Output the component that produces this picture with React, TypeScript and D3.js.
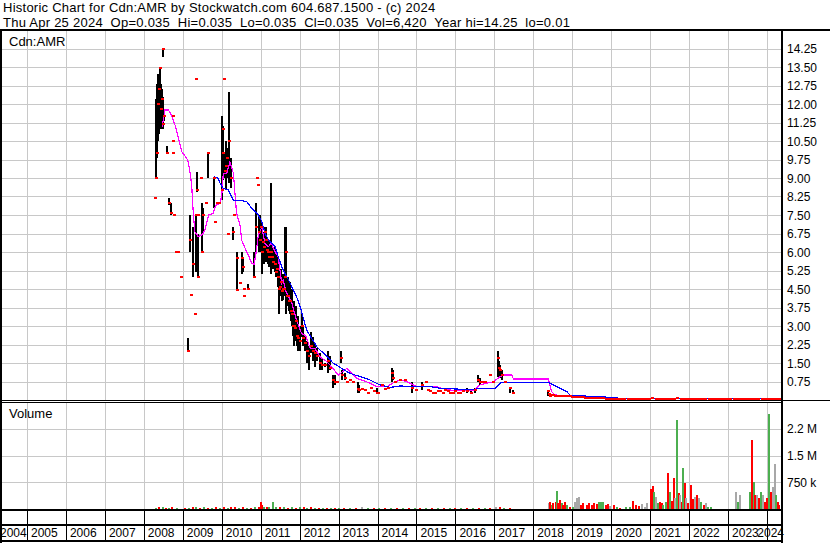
import React from 'react';
import * as d3 from 'd3';

const headerLine1 = 'Historic Chart for Cdn:AMR by Stockwatch.com 604.687.1500 - (c) 2024';
const headerLine2 = 'Thu Apr 25 2024  Op=0.035  Hi=0.035  Lo=0.035  Cl=0.035  Vol=6,420  Year hi=14.25  lo=0.01';
const symbolLabel = 'Cdn:AMR';
const volumeLabel = 'Volume';

const yearLabels = [2004, 2005, 2006, 2007, 2008, 2009, 2010, 2011, 2012, 2013, 2014, 2015, 2016, 2017, 2018, 2019, 2020, 2021, 2022, 2023, 2024];
const priceTicks = [0.75, 1.5, 2.25, 3, 3.75, 4.5, 5.25, 6, 6.75, 7.5, 8.25, 9, 9.75, 10.5, 11.25, 12, 12.75, 13.5, 14.25];
const volumeTicks = [750000, 1500000, 2250000];
const volumeTickLabels = ['750 k', '1.5 M', '2.2 M'];

// [date, low, high, close]
const priceBars: [number, number, number, number][] = [
  [2008.29, 8.2, 8.2, 8.2], [2008.30, 9.0, 9.0, 9.0], [2008.31, 9.0, 12.2, 9.0], [2008.34, 9.8, 12.8, 10.0],
  [2008.36, 10.5, 13.2, 12.0], [2008.39, 10.8, 13.0, 12.6], [2008.41, 11.5, 13.5, 13.47], [2008.44, 11.0, 12.8, 11.8],
  [2008.47, 11.2, 12.6, 12.2], [2008.49, 13.9, 14.25, 14.25], [2008.50, 11.0, 12.3, 11.2], [2008.52, 11.3, 11.8, 11.5],
  [2008.59, 10.0, 10.3, 10.0], [2008.65, 7.9, 8.2, 8.0], [2008.70, 7.5, 8.0, 7.6], [2008.74, 11.5, 11.5, 11.5],
  [2008.75, 10.5, 10.5, 10.5], [2008.76, 10.0, 10.0, 10.0], [2008.77, 7.5, 7.5, 7.5], [2008.83, 6.0, 6.0, 6.0],
  [2008.86, 6.0, 6.0, 6.0], [2008.88, 6.0, 6.0, 6.0], [2008.95, 5.0, 5.0, 5.0],
  [2009.13, 2.0, 2.5, 2.0], [2009.19, 6.0, 7.5, 6.5], [2009.20, 4.25, 4.25, 4.25], [2009.26, 5.0, 7.0, 5.5],
  [2009.31, 3.5, 3.5, 3.5], [2009.33, 5.2, 7.5, 7.5], [2009.34, 13.0, 13.0, 13.0], [2009.36, 8.45, 9.25, 8.5],
  [2009.38, 5.0, 6.75, 5.0], [2009.40, 7.5, 7.5, 7.5], [2009.46, 9.0, 9.0, 9.0], [2009.49, 6.0, 8.0, 6.0],
  [2009.52, 6.8, 7.8, 7.5], [2009.60, 8.0, 8.0, 8.0], [2009.64, 9.0, 10.0, 10.0], [2009.80, 7.8, 9.0, 9.0],
  [2009.83, 7.2, 7.2, 7.2], [2009.88, 8.0, 8.0, 8.0], [2009.93, 8.0, 8.0, 8.0],
  [2010.00, 8.1, 11.5, 8.5], [2010.03, 8.9, 11.1, 11.0], [2010.04, 9.2, 10.8, 10.0], [2010.06, 13.0, 13.0, 13.0],
  [2010.08, 9.0, 10.0, 9.3], [2010.10, 8.5, 10.5, 9.5], [2010.14, 9.0, 10.2, 9.8], [2010.16, 6.75, 6.75, 6.75],
  [2010.19, 8.8, 12.5, 10.5], [2010.23, 8.6, 9.8, 9.0], [2010.28, 6.5, 7.0, 6.8], [2010.31, 7.5, 7.5, 7.5],
  [2010.38, 4.5, 6.0, 5.75], [2010.40, 4.45, 5.4, 4.45], [2010.47, 4.75, 4.75, 4.75], [2010.52, 5.1, 6.0, 5.75],
  [2010.55, 5.2, 5.8, 5.4], [2010.57, 4.5, 4.5, 4.5], [2010.58, 4.2, 4.2, 4.2], [2010.68, 4.5, 4.7, 4.5],
  [2010.82, 5.0, 6.0, 5.0], [2010.87, 6.0, 8.0, 7.0], [2010.91, 9.0, 9.0, 9.0], [2010.94, 8.7, 8.7, 8.7],
  [2010.95, 6.0, 7.5, 6.8], [2010.97, 6.0, 7.5, 6.5],
  [2011.01, 6.2, 7.3, 7.0], [2011.03, 5.1, 7.0, 6.0], [2011.06, 5.6, 6.8, 6.4], [2011.09, 5.5, 6.5, 6.2],
  [2011.11, 5.6, 7.0, 6.8], [2011.14, 5.8, 7.0, 6.5], [2011.16, 5.6, 6.6, 6.1], [2011.19, 5.5, 6.5, 6.0],
  [2011.22, 5.4, 6.4, 5.8], [2011.27, 5.1, 8.8, 6.0], [2011.30, 5.5, 6.3, 5.8], [2011.32, 5.3, 6.2, 5.6],
  [2011.37, 5.2, 6.2, 5.5], [2011.40, 5.0, 5.8, 5.2], [2011.42, 5.0, 6.0, 5.3], [2011.45, 4.6, 5.6, 5.0],
  [2011.47, 3.5, 5.7, 4.5], [2011.50, 4.2, 5.2, 4.6], [2011.52, 4.2, 5.3, 4.8], [2011.55, 4.0, 5.0, 4.4],
  [2011.57, 4.05, 5.1, 4.5], [2011.60, 4.2, 5.0, 4.5], [2011.62, 4.5, 7.0, 5.0], [2011.65, 3.5, 7.0, 6.0],
  [2011.67, 3.8, 5.0, 4.2], [2011.70, 3.8, 5.0, 4.2], [2011.73, 3.6, 4.6, 4.0], [2011.75, 3.5, 4.8, 4.0],
  [2011.78, 3.2, 4.2, 3.6], [2011.80, 3.0, 4.5, 3.5], [2011.83, 2.6, 3.8, 3.0], [2011.86, 2.2, 4.0, 3.0],
  [2011.88, 2.4, 3.6, 2.9], [2011.91, 2.5, 3.8, 3.2], [2011.94, 2.2, 3.4, 2.6], [2011.96, 2.0, 3.4, 2.5],
  [2012.01, 2.0, 3.0, 2.4], [2012.05, 2.55, 3.5, 3.0], [2012.09, 2.2, 3.0, 2.5], [2012.14, 2.0, 2.6, 2.3],
  [2012.19, 1.5, 2.4, 2.0], [2012.24, 1.2, 2.2, 1.8], [2012.29, 1.9, 2.75, 2.2], [2012.34, 1.6, 2.55, 2.0],
  [2012.39, 1.35, 2.3, 1.9], [2012.45, 1.6, 2.1, 1.8], [2012.52, 1.2, 1.9, 1.5], [2012.57, 1.2, 1.7, 1.4],
  [2012.65, 1.35, 1.5, 1.4], [2012.73, 1.1, 2.0, 1.6], [2012.78, 1.2, 1.8, 1.3], [2012.86, 0.5, 1.0, 0.8],
  [2012.91, 0.6, 1.0, 0.75], [2012.96, 0.74, 0.74, 0.74],
  [2013.05, 1.5, 2.0, 1.7], [2013.09, 0.8, 1.2, 1.0], [2013.16, 0.8, 1.1, 0.9], [2013.22, 0.75, 0.75, 0.75],
  [2013.29, 0.8, 0.8, 0.8], [2013.37, 0.75, 0.75, 0.75], [2013.49, 0.28, 0.74, 0.45], [2013.52, 0.3, 0.6, 0.4],
  [2013.60, 0.45, 0.45, 0.45], [2013.68, 0.4, 0.4, 0.4], [2013.76, 0.3, 0.3, 0.3], [2013.83, 0.5, 0.5, 0.5],
  [2013.91, 0.35, 0.35, 0.35], [2013.98, 0.28, 0.5, 0.3],
  [2014.01, 0.28, 0.28, 0.28], [2014.12, 0.6, 0.6, 0.6], [2014.19, 0.45, 0.45, 0.45], [2014.27, 0.5, 0.5, 0.5],
  [2014.36, 0.74, 1.3, 1.1], [2014.40, 0.8, 1.2, 0.9], [2014.45, 0.74, 0.74, 0.74], [2014.58, 0.8, 0.8, 0.8],
  [2014.71, 0.8, 0.8, 0.8], [2014.89, 0.3, 0.74, 0.5], [2014.99, 0.4, 0.4, 0.4],
  [2015.13, 0.4, 0.74, 0.6], [2015.24, 0.74, 0.74, 0.74], [2015.30, 0.4, 0.4, 0.4], [2015.35, 0.35, 0.35, 0.35],
  [2015.42, 0.3, 0.3, 0.3], [2015.48, 0.3, 0.3, 0.3], [2015.55, 0.35, 0.35, 0.35], [2015.60, 0.35, 0.35, 0.35],
  [2015.67, 0.3, 0.3, 0.3], [2015.73, 0.4, 0.4, 0.4], [2015.80, 0.35, 0.35, 0.35], [2015.86, 0.3, 0.3, 0.3],
  [2015.93, 0.3, 0.3, 0.3], [2015.99, 0.35, 0.35, 0.35],
  [2016.06, 0.3, 0.3, 0.3], [2016.12, 0.3, 0.3, 0.3], [2016.20, 0.35, 0.35, 0.35], [2016.30, 0.28, 0.5, 0.35],
  [2016.40, 0.28, 0.45, 0.3], [2016.50, 0.3, 0.5, 0.4], [2016.58, 0.74, 1.0, 0.8], [2016.63, 0.6, 0.9, 0.74],
  [2016.70, 0.74, 0.74, 0.74], [2016.76, 0.74, 0.74, 0.74], [2016.89, 1.0, 1.0, 1.0], [2016.97, 0.74, 0.74, 0.74],
  [2017.10, 0.95, 2.0, 1.7], [2017.12, 1.0, 1.6, 1.3], [2017.15, 0.9, 1.4, 1.2], [2017.20, 0.8, 1.2, 1.0],
  [2017.27, 0.74, 0.74, 0.74], [2017.40, 0.28, 0.5, 0.5], [2017.48, 0.28, 0.4, 0.28],
  [2018.38, 0.15, 0.4, 0.35], [2018.40, 0.2, 0.3, 0.25], [2018.43, 0.12, 0.25, 0.15], [2018.47, 0.2, 0.2, 0.2],
  [2018.51, 0.2, 0.2, 0.2], [2018.56, 0.18, 0.18, 0.18], [2018.60, 0.18, 0.18, 0.18], [2018.65, 0.16, 0.16, 0.16],
  [2018.69, 0.15, 0.15, 0.15], [2018.75, 0.17, 0.17, 0.17], [2018.81, 0.18, 0.18, 0.18], [2018.87, 0.16, 0.16, 0.16],
  [2018.94, 0.15, 0.15, 0.15], [2019.00, 0.14, 0.14, 0.14], [2019.07, 0.12, 0.12, 0.12], [2019.13, 0.12, 0.12, 0.12],
  [2019.20, 0.12, 0.12, 0.12], [2019.27, 0.11, 0.11, 0.11], [2019.33, 0.1, 0.1, 0.1], [2019.40, 0.1, 0.1, 0.1],
  [2019.46, 0.1, 0.1, 0.1], [2019.52, 0.09, 0.09, 0.09], [2019.58, 0.08, 0.08, 0.08], [2019.65, 0.08, 0.08, 0.08],
  [2019.71, 0.07, 0.07, 0.07], [2019.78, 0.07, 0.07, 0.07], [2019.86, 0.06, 0.06, 0.06], [2019.94, 0.06, 0.06, 0.06],
  [2020.02, 0.06, 0.06, 0.06], [2020.10, 0.06, 0.06, 0.06], [2020.18, 0.05, 0.05, 0.05], [2020.26, 0.05, 0.05, 0.05],
  [2020.34, 0.05, 0.05, 0.05], [2020.42, 0.05, 0.05, 0.05], [2020.50, 0.05, 0.05, 0.05], [2020.58, 0.06, 0.06, 0.06],
  [2020.66, 0.05, 0.05, 0.05], [2020.74, 0.05, 0.05, 0.05], [2020.82, 0.05, 0.05, 0.05], [2020.90, 0.05, 0.05, 0.05],
  [2020.98, 0.06, 0.06, 0.06], [2021.06, 0.08, 0.08, 0.08], [2021.14, 0.06, 0.06, 0.06], [2021.22, 0.05, 0.05, 0.05],
  [2021.30, 0.05, 0.05, 0.05], [2021.38, 0.06, 0.06, 0.06], [2021.46, 0.06, 0.06, 0.06], [2021.54, 0.06, 0.06, 0.06],
  [2021.62, 0.05, 0.05, 0.05], [2021.70, 0.07, 0.07, 0.07], [2021.78, 0.05, 0.05, 0.05], [2021.86, 0.05, 0.05, 0.05],
  [2021.94, 0.05, 0.05, 0.05], [2022.02, 0.05, 0.05, 0.05], [2022.10, 0.05, 0.05, 0.05], [2022.18, 0.04, 0.04, 0.04],
  [2022.26, 0.04, 0.04, 0.04], [2022.34, 0.04, 0.04, 0.04], [2022.42, 0.04, 0.04, 0.04], [2022.50, 0.04, 0.04, 0.04],
  [2022.58, 0.04, 0.04, 0.04], [2022.66, 0.04, 0.04, 0.04], [2022.74, 0.04, 0.04, 0.04], [2022.82, 0.04, 0.04, 0.04],
  [2022.90, 0.04, 0.04, 0.04], [2022.98, 0.04, 0.04, 0.04], [2023.06, 0.04, 0.04, 0.04], [2023.14, 0.04, 0.04, 0.04],
  [2023.22, 0.05, 0.05, 0.05], [2023.30, 0.04, 0.04, 0.04], [2023.38, 0.04, 0.04, 0.04], [2023.46, 0.04, 0.04, 0.04],
  [2023.54, 0.05, 0.05, 0.05], [2023.62, 0.04, 0.04, 0.04], [2023.70, 0.04, 0.04, 0.04], [2023.78, 0.04, 0.04, 0.04],
  [2023.86, 0.04, 0.04, 0.04], [2023.94, 0.035, 0.035, 0.035], [2024.02, 0.04, 0.04, 0.04], [2024.10, 0.035, 0.035, 0.035],
  [2024.18, 0.035, 0.035, 0.035], [2024.26, 0.035, 0.035, 0.035], [2024.31, 0.035, 0.035, 0.035],
];

// [date, value] short moving average (magenta)
const fastMA: [number, number][] = [
  [2008.47, 11.08], [2008.54, 11.76], [2008.63, 11.76], [2008.72, 11.51], [2008.80, 11.15], [2008.88, 10.68],
  [2008.97, 10.07], [2009.10, 9.8], [2009.14, 9.66], [2009.19, 9.19], [2009.23, 8.65], [2009.27, 7.57],
  [2009.31, 6.82], [2009.40, 6.62], [2009.49, 6.69], [2009.57, 6.89], [2009.66, 7.5], [2009.78, 7.57],
  [2009.85, 7.9], [2009.96, 7.97], [2010.00, 8.31], [2010.04, 9.19], [2010.13, 9.19], [2010.21, 9.66],
  [2010.30, 9.19], [2010.34, 8.38], [2010.38, 7.57], [2010.47, 7.09], [2010.51, 6.49], [2010.60, 6.15],
  [2010.68, 5.88], [2010.77, 5.54], [2010.83, 5.5], [2010.88, 5.95], [2010.94, 6.69], [2011.03, 7.0],
  [2011.11, 6.35], [2011.19, 6.2], [2011.27, 6.35], [2011.37, 6.01], [2011.45, 5.8], [2011.54, 4.73],
  [2011.58, 4.86], [2011.65, 4.4], [2011.80, 3.92], [2011.92, 3.24], [2012.05, 2.7], [2012.16, 2.6],
  [2012.27, 2.1], [2012.39, 2.1], [2012.52, 1.76], [2012.70, 1.55], [2012.86, 1.28], [2012.99, 1.01],
  [2013.21, 1.28], [2013.34, 1.08], [2013.47, 0.88], [2013.72, 0.74], [2013.98, 0.54], [2014.24, 0.54],
  [2014.45, 0.74], [2014.62, 0.81], [2014.76, 0.74], [2015.01, 0.54], [2015.52, 0.54], [2015.78, 0.41],
  [2016.12, 0.38], [2016.46, 0.38], [2016.63, 0.61], [2016.97, 0.74], [2017.15, 0.95], [2017.23, 1.01],
  [2017.45, 1.01], [2017.49, 0.85], [2018.39, 0.85], [2018.47, 0.34], [2018.56, 0.2], [2019.20, 0.18],
  [2019.63, 0.07], [2020.74, 0.06], [2022.28, 0.05], [2024.31, 0.05],
];

// [date, value] long moving average (blue)
const slowMA: [number, number][] = [
  [2009.80, 9.05], [2009.91, 8.99], [2009.96, 8.78], [2010.04, 8.58], [2010.17, 8.51], [2010.30, 8.1],
  [2010.47, 8.1], [2010.64, 8.04], [2010.81, 7.7], [2010.94, 7.5], [2011.03, 7.23], [2011.11, 6.76],
  [2011.20, 6.49], [2011.28, 6.35], [2011.37, 6.21], [2011.45, 5.81], [2011.54, 5.4], [2011.67, 5.0],
  [2011.75, 4.75], [2011.92, 4.19], [2012.01, 3.8], [2012.18, 2.84], [2012.44, 2.16], [2012.70, 1.76],
  [2012.86, 1.5], [2013.08, 1.28], [2013.29, 1.08], [2013.55, 0.95], [2013.81, 0.81], [2014.06, 0.61],
  [2014.32, 0.51], [2014.58, 0.57], [2014.91, 0.54], [2015.35, 0.54], [2015.60, 0.48], [2016.45, 0.41],
  [2016.58, 0.47], [2017.02, 0.47], [2017.17, 0.72], [2018.38, 0.72], [2018.60, 0.54], [2018.86, 0.34],
  [2018.94, 0.2], [2019.07, 0.18], [2019.97, 0.11], [2020.23, 0.07], [2024.33, 0.06],
];

// [date, volume, colour key]
const volumeBars: [number, number, string][] = [
  [2008.32, 40000, 'g'], [2008.40, 60000, 'r'], [2008.48, 50000, 'g'], [2008.56, 40000, 'r'], [2008.64, 35000, 'g'],
  [2008.72, 45000, 'r'], [2008.85, 30000, 'g'], [2009.05, 40000, 'r'], [2009.15, 35000, 'g'], [2009.25, 50000, 'r'],
  [2009.35, 45000, 'g'], [2009.45, 40000, 'r'], [2009.55, 50000, 'g'], [2009.65, 40000, 'r'], [2009.75, 35000, 'g'],
  [2009.85, 45000, 'r'], [2009.95, 40000, 'g'], [2010.05, 50000, 'r'], [2010.15, 40000, 'g'], [2010.25, 45000, 'r'],
  [2010.35, 50000, 'r'], [2010.45, 40000, 'g'], [2010.55, 45000, 'r'], [2010.65, 35000, 'g'], [2010.75, 40000, 'r'],
  [2010.85, 50000, 'g'], [2010.95, 60000, 'r'], [2011.00, 190000, 'r'], [2011.04, 100000, 'r'], [2011.08, 60000, 'g'],
  [2011.15, 50000, 'r'], [2011.22, 45000, 'g'], [2011.32, 210000, 'g'], [2011.40, 60000, 'g'], [2011.50, 50000, 'r'],
  [2011.60, 45000, 'g'], [2011.70, 40000, 'r'], [2011.80, 50000, 'g'], [2011.90, 40000, 'r'], [2012.00, 45000, 'g'],
  [2012.10, 60000, 'r'], [2012.20, 40000, 'g'], [2012.30, 45000, 'r'], [2012.40, 35000, 'g'], [2012.50, 40000, 'r'],
  [2012.60, 35000, 'g'], [2012.70, 40000, 'r'], [2012.80, 30000, 'g'], [2012.90, 35000, 'r'], [2013.00, 30000, 'g'],
  [2013.15, 35000, 'r'], [2013.30, 30000, 'g'], [2013.45, 35000, 'r'], [2013.60, 50000, 'k'], [2013.75, 30000, 'g'],
  [2013.90, 35000, 'r'], [2014.05, 30000, 'g'], [2014.20, 35000, 'r'], [2014.35, 40000, 'g'], [2014.50, 30000, 'r'],
  [2014.65, 30000, 'g'], [2014.80, 35000, 'r'], [2014.95, 30000, 'g'], [2015.10, 30000, 'r'], [2015.25, 35000, 'g'],
  [2015.40, 30000, 'r'], [2015.55, 30000, 'g'], [2015.70, 35000, 'r'], [2015.85, 30000, 'g'], [2016.00, 30000, 'r'],
  [2016.15, 35000, 'g'], [2016.30, 30000, 'r'], [2016.45, 35000, 'g'], [2016.60, 30000, 'r'], [2016.75, 35000, 'g'],
  [2016.90, 40000, 'r'], [2017.05, 60000, 'k'], [2017.15, 45000, 'r'], [2017.25, 40000, 'g'], [2017.40, 35000, 'r'],
  [2018.39, 159000, 'k'], [2018.43, 206000, 'r'], [2018.47, 112000, 'g'], [2018.51, 159000, 'r'], [2018.57, 206000, 'r'],
  [2018.60, 505000, 'g'], [2018.64, 159000, 'r'], [2018.69, 252000, 'r'], [2018.73, 159000, 'g'], [2018.77, 112000, 'r'],
  [2018.81, 206000, 'r'], [2018.86, 112000, 'g'], [2018.94, 65000, 'r'], [2019.03, 65000, 'g'],
  [2019.07, 206000, 'k'], [2019.11, 318000, 'k'], [2019.17, 346000, 'k'], [2019.22, 112000, 'r'], [2019.28, 159000, 'r'],
  [2019.37, 112000, 'r'], [2019.43, 159000, 'r'], [2019.50, 112000, 'r'], [2019.56, 159000, 'r'], [2019.63, 131000, 'r'],
  [2019.69, 206000, 'g'], [2019.74, 187000, 'g'], [2019.80, 206000, 'g'], [2019.87, 112000, 'r'], [2019.93, 131000, 'r'],
  [2019.97, 93000, 'k'], [2020.06, 112000, 'r'], [2020.14, 65000, 'g'], [2020.23, 37000, 'r'], [2020.37, 56000, 'g'],
  [2020.48, 65000, 'g'], [2020.57, 224000, 'r'], [2020.64, 112000, 'r'], [2020.72, 93000, 'r'], [2020.80, 131000, 'k'],
  [2020.87, 65000, 'k'], [2020.93, 159000, 'k'],
  [2021.01, 561000, 'r'], [2021.07, 654000, 'r'], [2021.11, 486000, 'g'], [2021.15, 346000, 'k'], [2021.21, 159000, 'g'],
  [2021.25, 206000, 'r'], [2021.30, 159000, 'r'], [2021.34, 112000, 'g'], [2021.41, 206000, 'g'], [2021.47, 1000000, 'r'],
  [2021.51, 486000, 'g'], [2021.55, 224000, 'r'], [2021.60, 860000, 'r'], [2021.64, 299000, 'k'], [2021.70, 2495000, 'g'],
  [2021.73, 439000, 'r'], [2021.77, 393000, 'k'], [2021.81, 206000, 'r'], [2021.85, 1140000, 'g'], [2021.90, 720000, 'r'],
  [2021.93, 299000, 'k'], [2021.96, 159000, 'r'],
  [2022.05, 673000, 'r'], [2022.09, 280000, 'r'], [2022.15, 346000, 'k'], [2022.19, 393000, 'r'], [2022.25, 299000, 'k'],
  [2022.30, 206000, 'g'], [2022.37, 112000, 'r'], [2022.43, 159000, 'k'], [2022.49, 65000, 'g'], [2022.55, 56000, 'g'],
  [2023.20, 467000, 'k'], [2023.25, 206000, 'g'], [2023.31, 393000, 'k'], [2023.56, 486000, 'g'], [2023.61, 1935000, 'r'],
  [2023.66, 766000, 'g'], [2023.70, 393000, 'r'], [2023.75, 393000, 'k'], [2023.80, 299000, 'r'], [2023.85, 486000, 'g'],
  [2023.91, 393000, 'k'], [2023.95, 206000, 'r'],
  [2023.99, 299000, 'r'], [2024.04, 2654000, 'g'], [2024.09, 486000, 'r'], [2024.15, 626000, 'k'], [2024.20, 1252000, 'k'],
  [2024.23, 393000, 'g'], [2024.27, 187000, 'r'], [2024.30, 112000, 'r'],
];

const volColors: Record<string, string> = { r: '#ff0000', g: '#4caf50', k: '#a8a8a8' };

const FONT = '"Liberation Sans", Arial, sans-serif';

export default function App() {
  const W = 830, H = 543;
  const plotL = 2, plotR = 781;
  const priceTop = 31, priceBottom = 400;
  const volTop = 403, volBottom = 509;

  const x = d3.scaleLinear().domain([2005, 2024]).range([27, 767]);
  const yP = d3.scaleLinear().domain([0, 15]).range([400, 30]);
  const yV = d3.scaleLinear().domain([0, 3000000]).range([509, 402]);

  const maLine = d3.line<[number, number]>().x(d => x(d[0])).y(d => yP(d[1]));

  const yearBounds = yearLabels.slice(1);
  const px = (v: number) => Math.round(v) + 0.5;

  const labelFont = 12;
  const labelW = 4 * 0.556 * labelFont;

  return (
    <svg width={W} height={H} style={{ position: 'absolute', left: 0, top: 0, background: '#fff' }} fontFamily={FONT}>
      <rect x={0} y={0} width={W} height={H} fill="#fff" />
      <defs>
        <clipPath id="pclip"><rect x={plotL} y={priceTop} width={plotR - plotL} height={priceBottom - priceTop} /></clipPath>
        <clipPath id="vclip"><rect x={plotL} y={volTop} width={plotR - plotL} height={volBottom - volTop} /></clipPath>
      </defs>

      {/* header */}
      <text x={3} y={12} fontSize={13} letterSpacing={0.25} style={{ whiteSpace: 'pre' }}>{headerLine1}</text>
      <text x={3} y={27} fontSize={13} letterSpacing={0.25} style={{ whiteSpace: 'pre' }}>{headerLine2}</text>

      {/* price grid */}
      {priceTicks.map(t => (
        <line key={'pg' + t} x1={plotL} x2={plotR} y1={px(yP(t))} y2={px(yP(t))} stroke="#c8c8c8" strokeWidth={1} />
      ))}
      {yearBounds.map(yr => (
        <line key={'pv' + yr} x1={px(x(yr))} x2={px(x(yr))} y1={priceTop} y2={priceBottom} stroke="#c8c8c8" strokeWidth={1} />
      ))}
      {/* volume grid */}
      {volumeTicks.map(t => (
        <line key={'vg' + t} x1={plotL} x2={plotR} y1={px(yV(t))} y2={px(yV(t))} stroke="#c8c8c8" strokeWidth={1} />
      ))}
      {yearBounds.map(yr => (
        <line key={'vv' + yr} x1={px(x(yr))} x2={px(x(yr))} y1={volTop} y2={volBottom} stroke="#c8c8c8" strokeWidth={1} />
      ))}

      <text x={9} y={46} fontSize={13}>{symbolLabel}</text>
      <text x={9} y={418} fontSize={13}>{volumeLabel}</text>

      {/* price marks */}
      <g clipPath="url(#pclip)">
        {priceBars.map((b, i) => {
          const cx = Math.round(x(b[0]));
          const yh = yP(b[2]);
          const yl = yP(b[1]);
          return b[2] > b[1] ? (
            <rect key={'b' + i} x={cx - 1} y={Math.round(yh)} width={2} height={Math.max(1, Math.round(yl) - Math.round(yh))} fill="#000" />
          ) : null;
        })}
        <path d={maLine(fastMA) || ''} fill="none" stroke="#ff00ff" strokeWidth={1.2} shapeRendering="crispEdges" />
        <path d={maLine(slowMA) || ''} fill="none" stroke="#0000ff" strokeWidth={1.2} shapeRendering="crispEdges" />
        {priceBars.map((b, i) => (
          <rect key={'c' + i} x={Math.round(x(b[0])) - 1} y={Math.round(yP(b[3])) - 1} width={3} height={2} fill="#ff0000" />
        ))}
      </g>

      {/* volume marks */}
      <g clipPath="url(#vclip)">
        {volumeBars.map((v, i) => {
          const top = Math.round(yV(v[1]));
          return (
            <rect key={'v' + i} x={Math.round(x(v[0])) - 1} y={top} width={2} height={Math.max(1, volBottom - top)} fill={volColors[v[2]]} />
          );
        })}
      </g>

      {/* frames */}
      <rect x={0} y={29} width={W} height={2} fill="#000" />
      <rect x={0} y={29} width={2} height={H - 29} fill="#000" />
      <rect x={781} y={29} width={2} height={H - 29} fill="#000" />
      <rect x={0} y={400} width={W} height={1} fill="#000" />
      <rect x={0} y={402} width={783} height={1} fill="#000" />
      <rect x={0} y={509} width={783} height={2} fill="#000" />
      <rect x={0} y={524} width={783} height={2} fill="#000" />
      <rect x={0} y={540} width={783} height={2} fill="#000" />
      {yearBounds.map(yr => (
        <line key={'xs' + yr} x1={px(x(yr))} x2={px(x(yr))} y1={511} y2={540} stroke="#000" strokeWidth={1} />
      ))}

      {/* axis labels */}
      {priceTicks.map(t => (
        <text key={'pl' + t} x={787} y={yP(t) + 4.5} fontSize={12}>{t.toFixed(2)}</text>
      ))}
      {volumeTicks.map((t, i) => (
        <text key={'vl' + t} x={787} y={yV(t) + 4.5} fontSize={12}>{volumeTickLabels[i]}</text>
      ))}
      <g>
        {yearLabels.map(yr => {
          const sx = x(yr) + 4;
          const lx = Math.max(0, Math.min(sx, 784 - labelW));
          return <text key={'yl' + yr} x={lx} y={537} fontSize={labelFont}>{yr}</text>;
        })}
      </g>
    </svg>
  );
}
